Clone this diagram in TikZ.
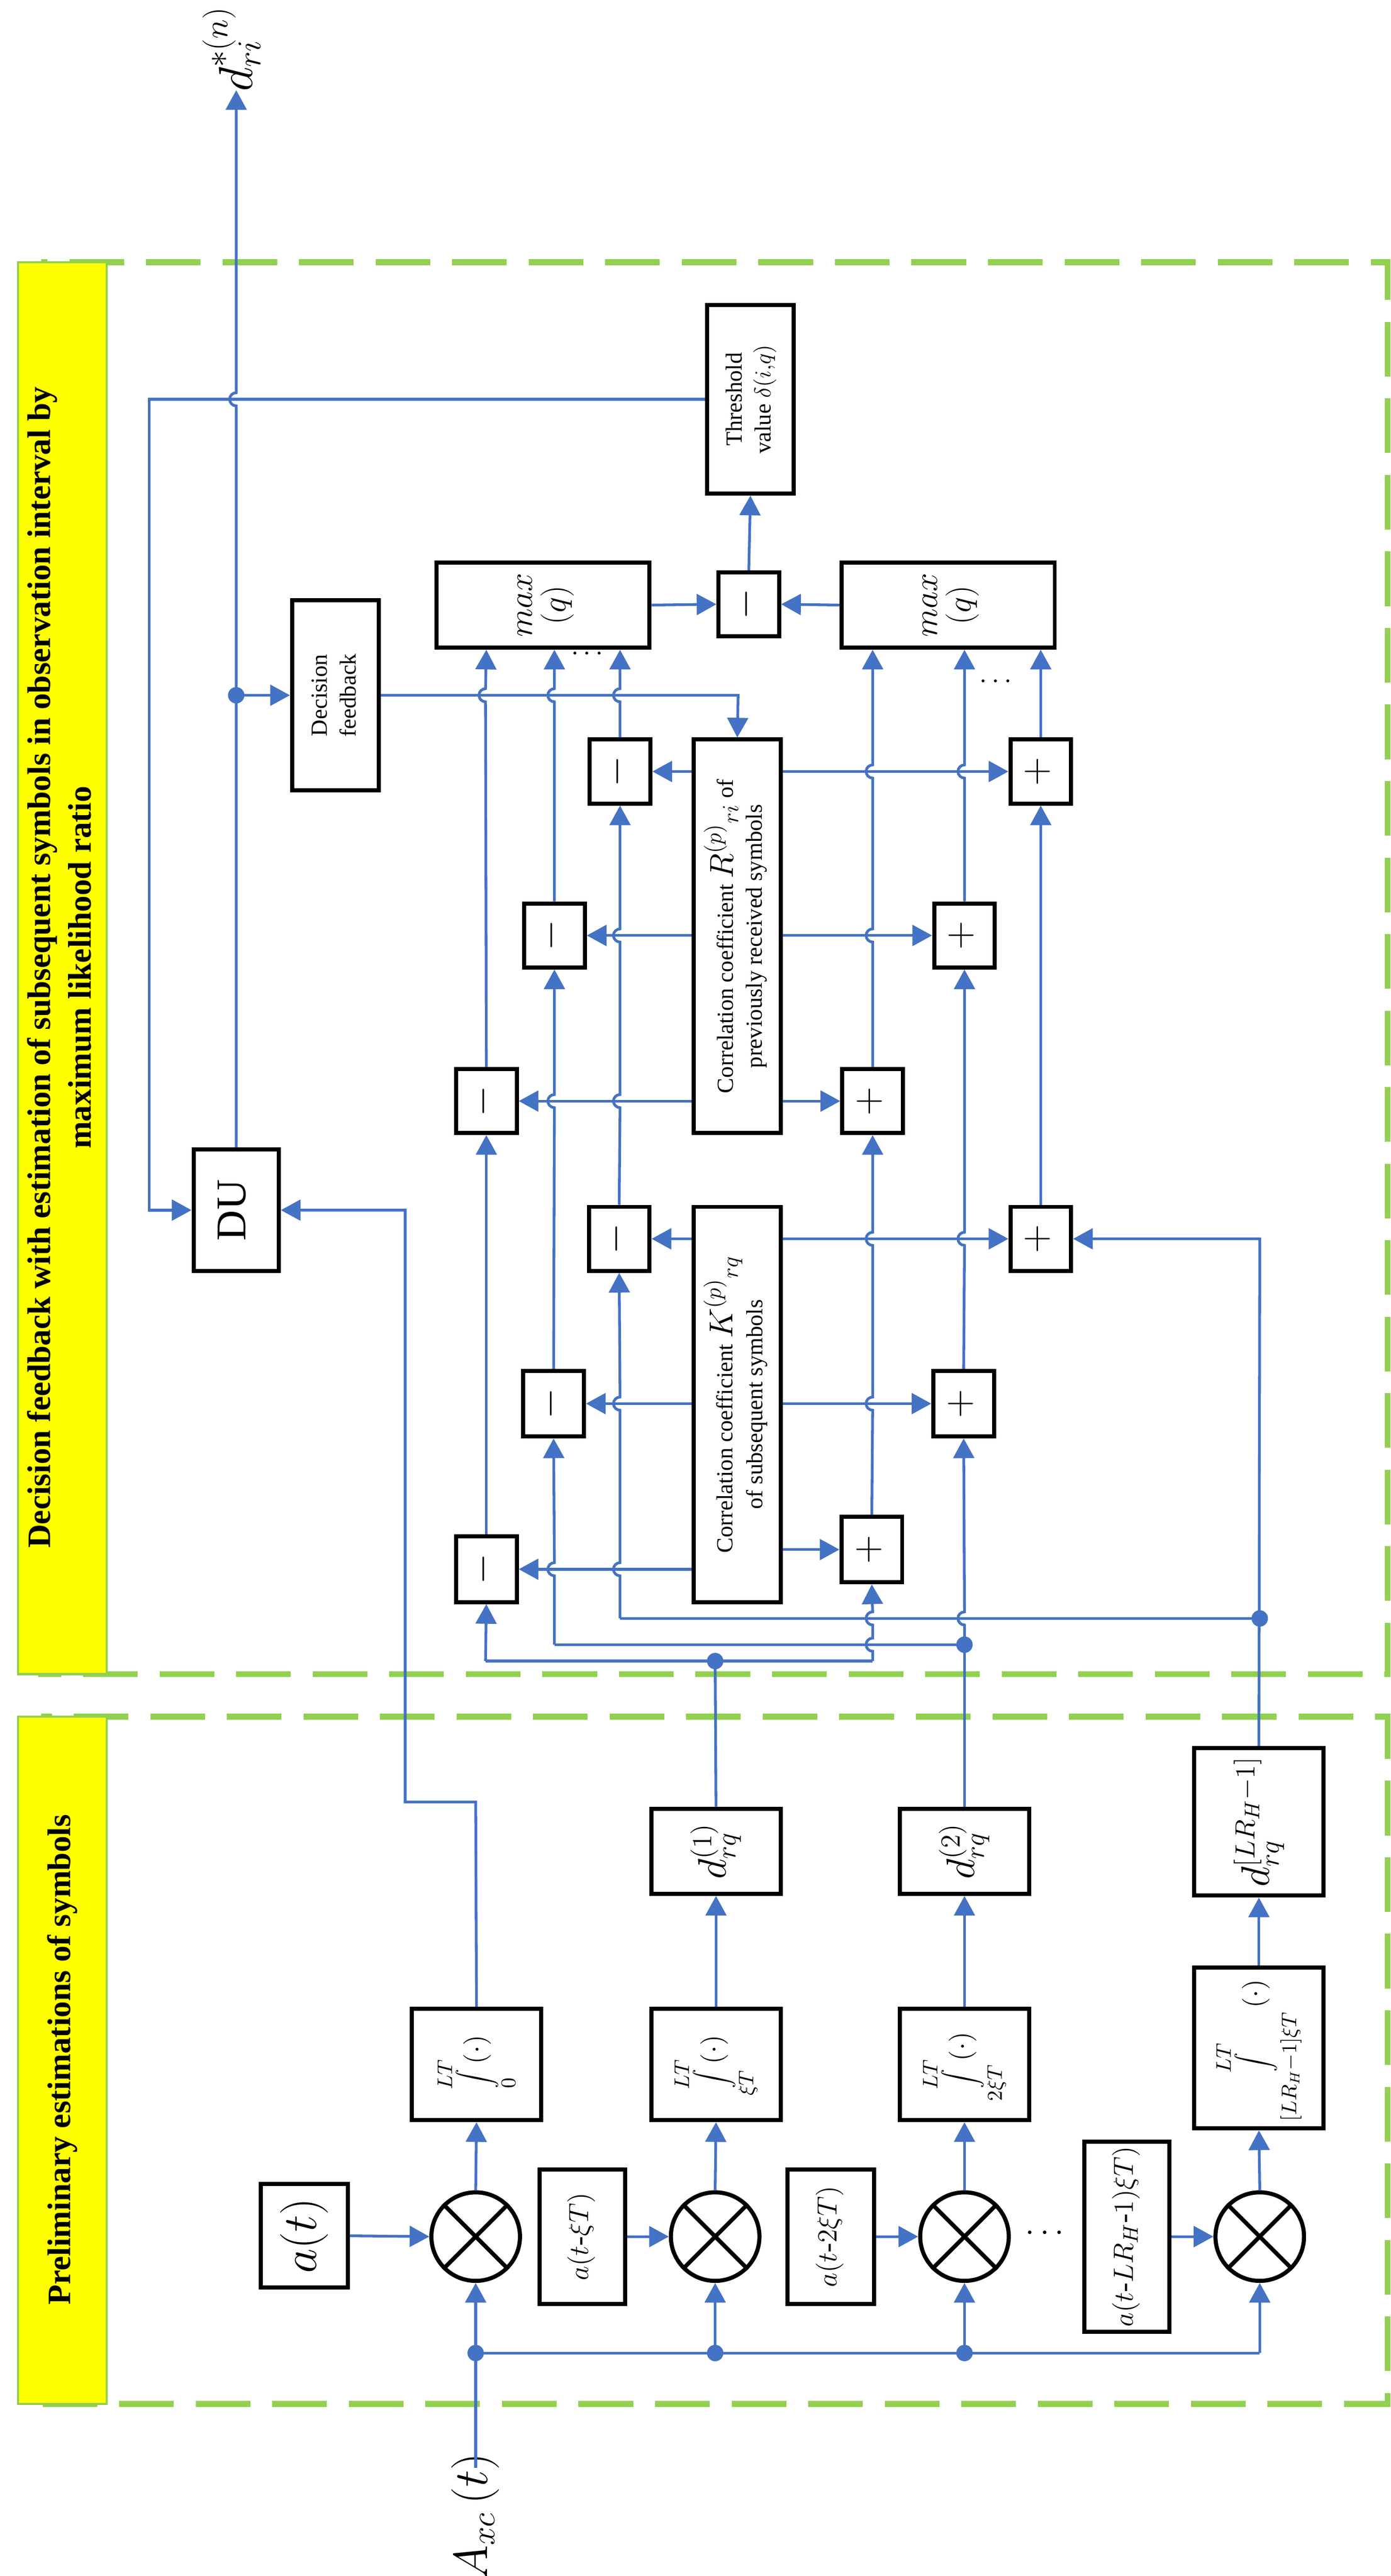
\documentclass[tikz,border=0pt]{standalone}
\usepackage{fontspec}
\setmainfont{Liberation Serif}
\usepackage{graphicx}
\usetikzlibrary{arrows.meta,calc}
\definecolor{lb}{HTML}{4472C4}
\definecolor{gr}{HTML}{92D050}
\definecolor{ye}{HTML}{FFFF00}
\renewcommand\arraystretch{1.25}
\newcommand\Rt[1]{\rotatebox{90}{\begin{tabular}{@{}c@{}}#1\end{tabular}}}
\newcommand\hop[2]{-- (#1,#2+4) arc[start angle=90,end angle=270,radius=4]}
\newcommand\fs[1]{\fontsize{#1}{#1}\selectfont}
\begin{document}
\begin{tikzpicture}[x=0.3mm,y=-0.3mm,
  bl/.style={draw=lb,line width=0.5mm},
  ar/.style={bl,-{Triangle[length=3.6mm,width=3.8mm]}},
  box/.style 2 args={draw,line width=0.75mm,minimum width=#1*0.3mm,minimum height=#2*0.3mm,inner sep=0pt,fill=white},
  mul/.style={draw,circle,line width=0.75mm,minimum size=54*0.3mm,inner sep=0pt},
  gdash/.style={draw=gr,line width=1.1mm,dash pattern=on 10mm off 4mm},
  ybox/.style={fill=ye,draw=gr,line width=0.4mm},
  ttl/.style={font=\fs{17}\bfseries},
  sm/.style={font=\fs{12}}]
\useasboundingbox (0,0) rectangle (848,1571);
% panels
\draw[gdash] (25,160) rectangle (846,1021);
\draw[gdash] (25,1047) rectangle (846,1466);
\draw[ybox] (11,160) rectangle (65,1021);
\draw[ybox] (11,1047) rectangle (65,1466);
\node[ttl] (t1) at (38,590) {\Rt{Decision feedback with estimation of subsequent symbols in observation interval by\\maximum likelihood ratio}};
\node[ttl] (t2) at (38,1256) {\Rt{Preliminary estimations of symbols}};
% ---------- lower panel ----------
\node[box={53}{63}] (at) at (185.5,1363.5) {\Rt{\fs{24}$a(t)$}};
\foreach \n/\x in {m1/290,m2/436,m3/588,m4/768}{
  \node[mul] (\n) at (\x,1364) {};
  \draw[line width=0.75mm] (\n.45)--(\n.225) (\n.135)--(\n.315);}
\node[box={52}{82}] (ab1) at (355,1364) {\Rt{\fs{15}$a(t$-$\xi T)$}};
\node[box={53}{82}] (ab2) at (506.5,1364) {\Rt{\fs{15}$a(t$-$2\xi T)$}};
\node[box={52}{116}] (ab3) at (687,1364) {\Rt{\fs{15}$a(t$-$LR_H$-$1)\xi T)$}};
\node[font=\fs{16}] (dots1) at (637,1362) {$\cdots$};
\node[box={79}{68}] (i1) at (290.5,1259) {\Rt{\fs{15}$\displaystyle\int\limits_{0}^{LT}\!\left(\cdot\right)$}};
\node[box={79}{68}] (i2) at (436.5,1259) {\Rt{\fs{15}$\displaystyle\int\limits_{\xi T}^{LT}\!\left(\cdot\right)$}};
\node[box={79}{68}] (i3) at (588,1259) {\Rt{\fs{15}$\displaystyle\int\limits_{2\xi T}^{LT}\!\left(\cdot\right)$}};
\node[box={79}{98}] (i4) at (767.5,1249) {\Rt{\fs{15}$\displaystyle\int\limits_{[LR_H-1]\xi T}^{LT}\!\left(\cdot\right)$}};
\node[box={79}{52}] (d1) at (436.5,1129) {\Rt{\fs{22}$d_{rq}^{(1)}$}};
\node[box={79}{52}] (d2) at (588,1129) {\Rt{\fs{22}$d_{rq}^{(2)}$}};
\node[box={79}{90}] (d3) at (767.5,1111) {\Rt{\fs{22}$d_{rq}^{[LR_H-1]}$}};
\node[font=\fs{24}] (Ain) at (290,1535) {\Rt{$A_{xc}\left(t\right)$}};
\draw[ar] (at.east) -- (m1.west);
\draw[ar] (ab1.east) -- (m2.west);
\draw[ar] (ab2.east) -- (m3.west);
\draw[ar] (ab3.east) -- (m4.west);
\coordinate (in) at (290,1505);
\draw[ar] (in) -- (m1.south);
\draw[bl] (290,1435) -- (768,1435);
\draw[ar] (768,1435) -- (m4.south);
\draw[ar] (436,1435) -- (m2.south);
\draw[ar] (588,1435) -- (m3.south);
\foreach \x in {290,436,588} \fill[lb] (\x,1435) circle (5);
\foreach \a/\b in {m1/i1,m2/i2,m3/i3,m4/i4,i2/d1,i3/d2,i4/d3} \draw[ar] (\a.north) -- (\b.south);
% ---------- upper panel ----------
\node[box={52}{74}] (DU) at (144,738) {\Rt{\fs{22}DU}};
\node[box={37}{40}] (mAl) at (296.5,957) {\Rt{\fs{22}$-$}};
\node[box={37}{39}] (mAu) at (296.5,671.5) {\Rt{\fs{22}$-$}};
\node[box={37}{40}] (mBl) at (337.5,856) {\Rt{\fs{22}$-$}};
\node[box={37}{39}] (mBu) at (338,570.5) {\Rt{\fs{22}$-$}};
\node[box={37}{39}] (mCl) at (377.5,755.5) {\Rt{\fs{22}$-$}};
\node[box={37}{39}] (mCu) at (378,470.5) {\Rt{\fs{22}$-$}};
\node[box={37}{40}] (pAl) at (531.5,945) {\Rt{\fs{22}$+$}};
\node[box={37}{39}] (pAu) at (532,671.5) {\Rt{\fs{22}$+$}};
\node[box={37}{40}] (pBl) at (587.5,856) {\Rt{\fs{22}$+$}};
\node[box={37}{39}] (pBu) at (588,570.5) {\Rt{\fs{22}$+$}};
\node[box={37}{39}] (pCl) at (634.5,755.5) {\Rt{\fs{22}$+$}};
\node[box={37}{39}] (pCu) at (634.5,470.5) {\Rt{\fs{22}$+$}};
\node[box={53}{241},sm] (K) at (449.5,856.5) {\Rt{Correlation coefficient \fs{18}$K^{(p)}{}_{rq}$\\of subsequent symbols}};
\node[box={53}{240},sm] (R) at (449.5,571) {\Rt{Correlation coefficient \fs{18}$R^{(p)}{}_{ri}$\fs{12} of\\previously received symbols}};
\node[box={130}{52}] (mx1) at (331,369) {\Rt{\fs{17}$max$\\\fs{17}$(q)$}};
\node[box={130}{52}] (mx2) at (578,369) {\Rt{\fs{17}$max$\\\fs{17}$(q)$}};
\node[box={37}{39}] (mM) at (456.5,368.5) {\Rt{\fs{22}$-$}};
\node[box={53}{115},sm] (Th) at (457.5,243.5) {\Rt{Threshold\\value $\delta(i{,}q)$}};
\node[box={53}{116},sm] (DF) at (204.5,424) {\Rt{Decision\\feedback}};
\node[font=\fs{14}] (dt1) at (358,399) {$\cdots$};
\node[font=\fs{14}] (dt2) at (607,416) {$\cdots$};
\node[font=\fs{24}] (out) at (144,30) {\Rt{$d_{ri}^{*(n)}$}};
% K and R box outputs
\foreach \t in {mAl,mBl,mCl} \draw[ar] (K.west |- \t.east) -- (\t.east);
\foreach \t in {pAl,pBl,pCl} \draw[ar] (K.east |- \t.west) -- (\t.west);
\foreach \t in {mAu,mBu,mCu} \draw[ar] (R.west |- \t.east) -- (\t.east);
\foreach \t in {pAu,pBu,pCu} \draw[ar] (R.east |- \t.west) -- (\t.west);
% buses
\draw[bl] (d1.north) -- (436,1013);
\draw[bl] (296,1013) -- (532,1013);
\fill[lb] (436,1013) circle (5);
\draw[bl] (d2.north) -- (588,1003);
\draw[bl] (338,1003) -- (588,1003);
\fill[lb] (588,1003) circle (5);
\draw[bl] (378,987) -- (768,987);
\draw[ar] (d3.north) -- (768,755.5) -- (pCl.east);
\fill[lb] (768,987) circle (5);
% column A
\draw[ar] (296,1013) -- (mAl.south);
\draw[ar] (mAl.north) -- (mAu.south);
\draw[ar] (mAu.north) \hop{296}{424} -- (mx1.south -| mAu.north);
% column B
\draw[ar] (338,1003) \hop{338}{957} -- (mBl.south);
\draw[ar] (mBl.north) \hop{338}{671.5} -- (mBu.south);
\draw[ar] (mBu.north) \hop{338}{424} -- (mx1.south -| mBu.north);
% column C
\draw[ar] (378,987) \hop{378}{957} \hop{378}{856} -- (mCl.south);
\draw[ar] (mCl.north) \hop{378}{671.5} \hop{378}{570.5} -- (mCu.south);
\draw[ar] (mCu.north) \hop{378}{424} -- (mx1.south -| mCu.north);
% column P1
\draw[ar] (532,1013) \hop{532}{1003} \hop{532}{987} -- (pAl.south);
\draw[ar] (pAl.north) \hop{532}{856} \hop{532}{755.5} -- (pAu.south);
\draw[ar] (pAu.north) \hop{532}{570.5} \hop{532}{470.5} -- (mx2.south -| pAu.north);
% column P2
\draw[ar] (588,1003) \hop{588}{987} -- (pBl.south);
\draw[ar] (pBl.north) \hop{588}{755.5} -- (pBu.south);
\draw[ar] (pBu.north) \hop{588}{470.5} -- (mx2.south -| pBu.north);
% column P3
\draw[ar] (pCl.north) -- (pCu.south);
\draw[ar] (pCu.north) -- (mx2.south -| pCu.north);
% max, threshold, DU
\draw[ar] (mx1.east) -- (mM.west);
\draw[ar] (mx2.west) -- (mM.east);
\draw[ar] (mM.north) -- (Th.south);
\draw[ar] (Th.west) -- (91,243.5) -- (91,738) -- (DU.west);
\draw[ar] (i1.north) -- (290,1099) -- (247,1099) -- (247,738) -- (DU.east);
\coordinate (o) at (144,55);
\draw[ar] (DU.north) \hop{144}{243.5} -- (o);
\fill[lb] (144,424) circle (5);
\draw[ar] (144,424) -- (DF.west);
\draw[ar] (DF.east) -- (450,424) -- (R.north);
\end{tikzpicture}
\end{document}
